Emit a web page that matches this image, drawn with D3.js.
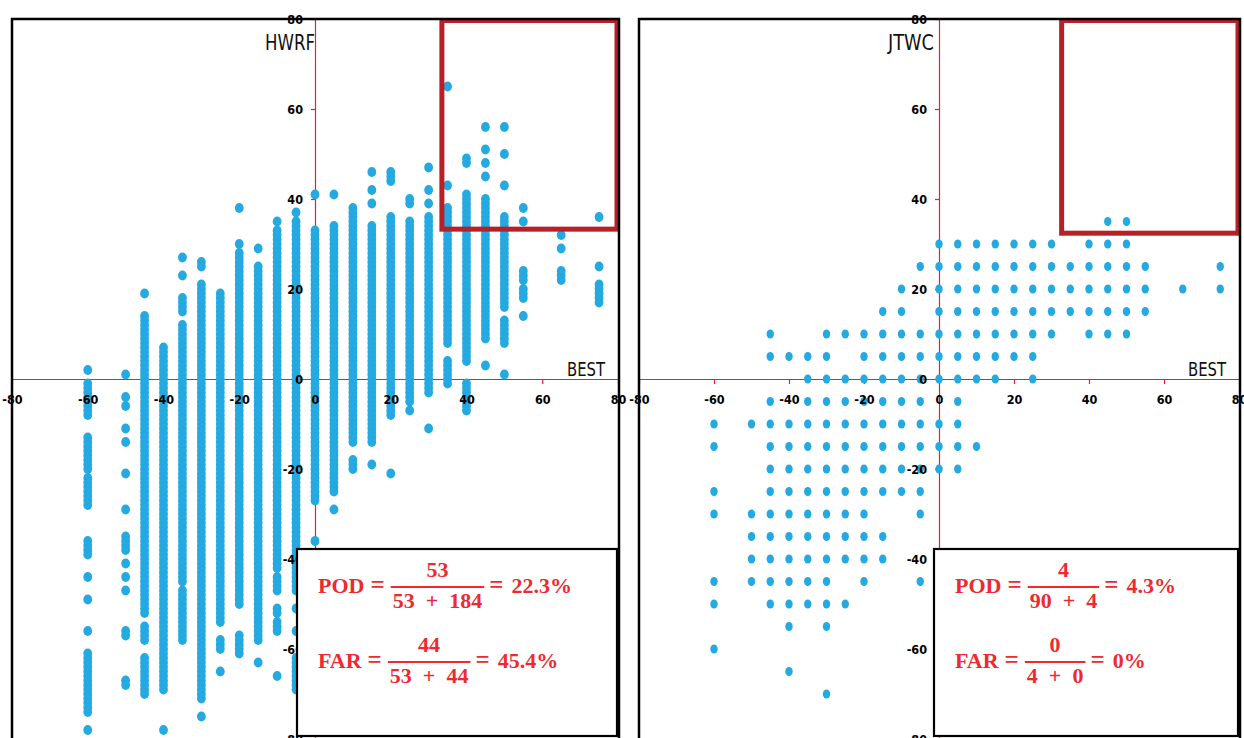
<!DOCTYPE html>
<html>
<head>
<meta charset="utf-8">
<script src="https://cdn.jsdelivr.net/npm/d3@7"></script>
<style>
  body { margin: 0; background: #fff; }
  svg { display: block; }
</style>
</head>
<body>
<div id="chart"></div>
<script>
  // Axis ticks (knots), shared by both panels
  var xTicks = [-80, -60, -40, -20, 0, 20, 40, 60, 80]
  var yTicks = [-80, -60, -40, -20, 0, 20, 40, 60, 80]

  // HWRF: one column of forecast values per BEST category
  var hwrfX = [-60, -50, -45, -40, -35, -30, -25, -20, -15, -10, -5, 0, 5, 10, 15, 20, 25, 30, 35, 40, 45, 50, 55, 65, 75]
  var hwrfY = [
    [2, -1, -2, -3, -4, -5, -6, -7, -8, -13, -14, -15, -16, -17, -18, -19, -20, -22, -23, -24, -25, -26, -27, -28, -36, -37, -38, -39, -44, -49, -56, -61, -62, -63, -64, -65, -66, -67, -68, -69, -70, -71, -72, -73, -74, -78],
    [1, -4, -6, -11, -14, -21, -29, -35, -36, -37, -38, -41, -44, -47, -56, -57, -67, -68],
    [19, 14, 13, 12, 11, 10, 9, 8, 7, 6, 5, 4, 3, 2, 1, 0, -1, -2, -3, -4, -5, -6, -7, -8, -9, -10, -11, -12, -13, -14, -15, -16, -17, -18, -19, -20, -21, -22, -23, -24, -25, -26, -27, -28, -29, -30, -31, -32, -33, -34, -35, -36, -37, -38, -39, -40, -41, -42, -43, -44, -45, -46, -47, -48, -49, -50, -51, -52, -55, -56, -57, -58, -62, -63, -64, -65, -66, -67, -68, -69, -70],
    [7, 6, 5, 4, 3, 2, 1, 0, -1, -2, -3, -4, -5, -6, -7, -8, -9, -10, -11, -12, -13, -14, -15, -16, -17, -18, -19, -20, -21, -22, -23, -24, -25, -26, -27, -28, -29, -30, -31, -32, -33, -34, -35, -36, -37, -38, -39, -40, -41, -42, -43, -44, -45, -46, -47, -48, -49, -50, -51, -52, -53, -54, -55, -56, -57, -58, -59, -60, -61, -62, -63, -64, -65, -66, -67, -68, -69, -78],
    [27, 23, 18, 17, 16, 15, 12, 11, 10, 9, 8, 7, 6, 5, 4, 3, 2, 1, 0, -1, -2, -3, -4, -5, -6, -7, -8, -9, -10, -11, -12, -13, -14, -15, -16, -17, -18, -19, -20, -21, -22, -23, -24, -25, -26, -27, -28, -29, -30, -31, -32, -33, -34, -35, -36, -37, -38, -39, -40, -41, -42, -43, -44, -45, -47, -48, -49, -50, -51, -52, -53, -54, -55, -56, -57, -58],
    [26, 25, 21, 20, 19, 18, 17, 16, 15, 14, 13, 12, 11, 10, 9, 8, 7, 6, 5, 4, 3, 2, 1, 0, -1, -2, -3, -4, -5, -6, -7, -8, -9, -10, -11, -12, -13, -14, -15, -16, -17, -18, -19, -20, -21, -22, -23, -24, -25, -26, -27, -28, -29, -30, -31, -32, -33, -34, -35, -36, -37, -38, -39, -40, -41, -42, -43, -44, -45, -46, -47, -48, -49, -50, -51, -52, -53, -54, -55, -56, -57, -58, -59, -60, -61, -62, -63, -64, -65, -66, -67, -68, -69, -70, -71, -75],
    [19, 18, 17, 16, 15, 14, 13, 12, 11, 10, 9, 8, 7, 6, 5, 4, 3, 2, 1, 0, -1, -2, -3, -4, -5, -6, -7, -8, -9, -10, -11, -12, -13, -14, -15, -16, -17, -18, -19, -20, -21, -22, -23, -24, -25, -26, -27, -28, -29, -30, -31, -32, -33, -34, -35, -36, -37, -38, -39, -40, -41, -42, -43, -44, -45, -46, -47, -48, -49, -50, -51, -52, -53, -54, -58, -59, -60, -65],
    [38, 30, 28, 27, 26, 25, 24, 23, 22, 21, 20, 19, 18, 17, 16, 15, 14, 13, 12, 11, 10, 9, 8, 7, 6, 5, 4, 3, 2, 1, 0, -1, -2, -3, -4, -5, -6, -7, -8, -9, -10, -11, -12, -13, -14, -15, -16, -17, -18, -19, -20, -21, -22, -23, -24, -25, -26, -27, -28, -29, -30, -31, -32, -33, -34, -35, -36, -37, -38, -39, -40, -41, -42, -43, -44, -45, -46, -47, -48, -49, -50, -57, -58, -59, -60, -61],
    [29, 25, 24, 23, 22, 21, 20, 19, 18, 17, 16, 15, 14, 13, 12, 11, 10, 9, 8, 7, 6, 5, 4, 3, 2, 1, 0, -1, -2, -3, -4, -5, -6, -7, -8, -9, -10, -11, -12, -13, -14, -15, -16, -17, -18, -19, -20, -21, -22, -23, -24, -25, -26, -27, -28, -29, -30, -31, -32, -33, -34, -35, -36, -37, -38, -39, -40, -41, -42, -43, -44, -45, -46, -47, -48, -49, -50, -51, -52, -53, -54, -55, -56, -57, -58, -63],
    [35, 33, 32, 31, 30, 29, 28, 27, 26, 25, 24, 23, 22, 21, 20, 19, 18, 17, 16, 15, 14, 13, 12, 11, 10, 9, 8, 7, 6, 5, 4, 3, 2, 1, 0, -1, -2, -3, -4, -5, -6, -7, -8, -9, -10, -11, -12, -13, -14, -15, -16, -17, -18, -19, -20, -21, -22, -23, -24, -25, -26, -27, -28, -29, -30, -31, -32, -33, -34, -35, -36, -37, -38, -39, -40, -41, -42, -44, -45, -46, -47, -51, -52, -54, -55, -56, -66],
    [37, 35, 34, 33, 32, 31, 30, 29, 28, 27, 26, 25, 24, 23, 22, 21, 20, 19, 18, 17, 16, 15, 14, 13, 12, 11, 10, 9, 8, 7, 6, 5, 4, 3, 2, 1, 0, -1, -2, -3, -4, -5, -6, -7, -8, -9, -10, -11, -12, -13, -14, -15, -16, -17, -18, -19, -20, -21, -22, -23, -24, -25, -26, -27, -28, -29, -30, -31, -32, -33, -34, -35, -36, -37, -38, -39, -40, -41, -42, -43, -44, -45, -46, -47, -51, -56, -62, -63, -64, -65, -66, -67, -68, -69],
    [41, 33, 32, 31, 30, 29, 28, 27, 26, 25, 24, 23, 22, 21, 20, 19, 18, 17, 16, 15, 14, 13, 12, 11, 10, 9, 8, 7, 6, 5, 4, 3, 2, 1, 0, -1, -2, -3, -4, -5, -6, -7, -8, -9, -10, -11, -12, -13, -14, -15, -16, -17, -18, -19, -20, -21, -22, -23, -24, -25, -26, -27, -36],
    [41, 34, 33, 32, 31, 30, 29, 28, 27, 26, 25, 24, 23, 22, 21, 20, 19, 18, 17, 16, 15, 14, 13, 12, 11, 10, 9, 8, 7, 6, 5, 4, 3, 2, 1, 0, -1, -2, -3, -4, -5, -6, -7, -8, -9, -10, -11, -12, -13, -14, -15, -16, -17, -18, -19, -20, -21, -22, -23, -24, -25, -29],
    [38, 37, 36, 35, 34, 33, 32, 31, 30, 29, 28, 27, 26, 25, 24, 23, 22, 21, 20, 19, 18, 17, 16, 15, 14, 13, 12, 11, 10, 9, 8, 7, 6, 5, 4, 3, 2, 1, 0, -1, -2, -3, -4, -5, -6, -7, -8, -9, -10, -11, -12, -13, -14, -18, -19, -20],
    [46, 42, 39, 34, 33, 32, 31, 30, 29, 28, 27, 26, 25, 24, 23, 22, 21, 20, 19, 18, 17, 16, 15, 14, 13, 12, 11, 10, 9, 8, 7, 6, 5, 4, 3, 2, 1, 0, -1, -2, -3, -4, -5, -6, -7, -8, -9, -10, -11, -12, -13, -14, -19],
    [46, 45, 44, 36, 35, 34, 33, 32, 31, 30, 29, 28, 27, 26, 25, 24, 23, 22, 21, 20, 19, 18, 17, 16, 15, 14, 13, 12, 11, 10, 9, 8, 7, 6, 5, 4, 3, 2, 1, 0, -1, -2, -3, -4, -5, -6, -7, -8, -21],
    [40, 39, 35, 34, 33, 32, 31, 30, 29, 28, 27, 26, 25, 24, 23, 22, 21, 20, 19, 18, 17, 16, 15, 14, 13, 12, 11, 10, 9, 8, 7, 6, 5, 4, 3, 2, 1, 0, -1, -2, -3, -4, -5, -7],
    [47, 42, 39, 36, 35, 34, 33, 32, 31, 30, 29, 28, 27, 26, 25, 24, 23, 22, 21, 20, 19, 18, 17, 16, 15, 14, 13, 12, 11, 10, 9, 8, 7, 6, 5, 4, 3, 2, 1, 0, -1, -2, -3, -11],
    [65, 43, 38, 37, 36, 35, 34, 33, 32, 31, 30, 29, 28, 27, 26, 25, 24, 23, 22, 21, 20, 19, 18, 17, 16, 15, 14, 13, 12, 11, 10, 9, 8, 4, 3, 2, 1, 0, -1],
    [49, 48, 41, 40, 39, 38, 37, 36, 35, 34, 33, 32, 31, 30, 29, 28, 27, 26, 25, 24, 23, 22, 21, 20, 19, 18, 17, 16, 15, 14, 13, 12, 11, 10, 9, 8, 7, 6, 5, 4, -1, -2, -3, -4, -5, -6, -7],
    [56, 51, 48, 45, 40, 39, 38, 37, 36, 35, 34, 33, 32, 31, 30, 29, 28, 27, 26, 25, 24, 23, 22, 21, 20, 19, 18, 17, 16, 15, 14, 13, 12, 11, 10, 9, 3],
    [56, 50, 43, 36, 35, 34, 33, 32, 31, 30, 29, 28, 27, 26, 25, 24, 23, 22, 21, 20, 19, 18, 17, 16, 13, 12, 11, 10, 9, 8, 1],
    [38, 35, 24, 23, 22, 20, 19, 18, 14],
    [32, 29, 24, 23, 22],
    [36, 25, 21, 20, 19, 18, 17]
  ]

  // JTWC: one row of BEST values per forecast category
  var jtwcY = [35, 30, 25, 20, 15, 10, 5, 0, -5, -10, -15, -20, -25, -30, -35, -40, -45, -50, -55, -60, -65, -70]
  var jtwcX = [
    [45, 50],
    [0, 5, 10, 15, 20, 25, 30, 40, 45, 50],
    [-5, 0, 5, 10, 15, 20, 25, 30, 35, 40, 45, 50, 55, 75],
    [-10, 0, 5, 10, 15, 20, 25, 30, 35, 40, 45, 50, 55, 65, 75],
    [-15, -10, 0, 5, 10, 15, 20, 25, 30, 35, 40, 45, 50, 55],
    [-45, -30, -25, -20, -15, -10, -5, 0, 5, 10, 15, 20, 25, 30, 40, 45, 50],
    [-45, -40, -35, -30, -20, -15, -10, -5, 0, 5, 10, 15, 20, 25],
    [-35, -30, -25, -20, -15, -10, -5, 0, 5, 10, 15, 25],
    [-45, -35, -30, -25, -20, -15, -10, -5, 5],
    [-60, -50, -45, -40, -35, -30, -25, -20, -15, -10, -5, 0, 5],
    [-60, -45, -40, -35, -30, -25, -20, -15, -10, -5, 0, 5, 10],
    [-45, -40, -35, -30, -25, -20, -15, -10, -5, 0, 5],
    [-60, -45, -40, -35, -30, -25, -20, -15, -10, -5],
    [-60, -50, -45, -40, -35, -30, -25, -20, -5],
    [-50, -45, -40, -35, -30, -25, -20, -15],
    [-50, -45, -40, -35, -30, -25, -20, -15],
    [-60, -50, -45, -40, -35, -30, -20, -5],
    [-60, -45, -40, -35, -30, -25],
    [-40, -30],
    [-60],
    [-40],
    [-30]
  ]

  // Panel titles and the scores written in the boxes
  var panelTitles = ["HWRF", "JTWC"]
  var scoreNames = ["POD", "FAR"]
  var hwrfNum = ["53", "44"]
  var hwrfDen = ["53 + 184", "53 + 44"]
  var hwrfRes = ["22.3%", "45.4%"]
  var jtwcNum = ["4", "0"]
  var jtwcDen = ["90 + 4", "4 + 0"]
  var jtwcRes = ["4.3%", "0%"]

  // Lower-left corner of the highlight box, in data units
  var hiliteX = [33.5, 32.7]
  var hiliteY = [33.3, 32.4]

  var width = 1244, height = 738
  var dotColor = "#24A9E1"
  var axisRed = "#E8202A"
  var textRed = "#EE2A30"
  var tickFont = '"Liberation Sans Narrow", "DejaVu Sans Condensed", "Arial Narrow", sans-serif'
  var mathFont = '"Liberation Serif", "DejaVu Serif", serif'

  var svg = d3.select("#chart")
    .append("svg")
    .attr("width", width)
    .attr("height", height)

  svg.append("rect").attr("width", width).attr("height", height).attr("fill", "#fff")

  // flatten the data into points for each panel
  var hwrfPts = []
  hwrfX.forEach(function(x, i) {
    hwrfY[i].forEach(function(y) { hwrfPts.push([x, y]) })
  })
  var jtwcPts = []
  jtwcY.forEach(function(y, i) {
    jtwcX[i].forEach(function(x) { jtwcPts.push([x, y]) })
  })

  var panels = [
    { left: 12, right: 618, pts: hwrfPts, num: hwrfNum, den: hwrfDen, res: hwrfRes, boxL: 297, rx: 4.4, ry: 5, titleDx: 0, titleW: 50 },
    { left: 639, right: 1239, pts: jtwcPts, num: jtwcNum, den: jtwcDen, res: jtwcRes, boxL: 934, rx: 3.7, ry: 4.6, titleDx: -5, titleW: 46 }
  ]

  panels.forEach(function(p, pi) {
    var x = d3.scaleLinear().domain([-80, 80]).range([p.left, p.right])
    var y = d3.scaleLinear().domain([-80, 80]).range([739, 19])
    var g = svg.append("g")

    // red axis lines through the origin
    g.append("g")
      .attr("transform", "translate(0," + y(0) + ")")
      .call(d3.axisBottom(x).tickValues(xTicks).tickSize(5).tickSizeOuter(0).tickFormat(""))
    g.append("g")
      .attr("transform", "translate(" + x(0) + ",0)")
      .call(d3.axisLeft(y).tickValues(yTicks).tickSize(4).tickSizeOuter(0).tickFormat(""))
    g.selectAll(".domain, .tick line").attr("stroke", axisRed).attr("stroke-width", 1.2)

    // scatter points
    g.append("g")
      .selectAll("ellipse")
      .data(p.pts)
      .enter()
      .append("ellipse")
      .attr("cx", function(d) { return x(d[0]) })
      .attr("cy", function(d) { return y(d[1]) })
      .attr("rx", p.rx)
      .attr("ry", p.ry)
      .attr("fill", dotColor)

    // tick labels sit on top of the dots
    var xLab = g.append("g")
      .attr("transform", "translate(0," + y(0) + ")")
      .call(d3.axisBottom(x).tickValues(xTicks).tickSize(0).tickPadding(16).tickFormat(d3.format("d")))
    var yLab = g.append("g")
      .attr("transform", "translate(" + x(0) + ",0)")
      .call(d3.axisLeft(y).tickValues(yTicks).tickSize(0).tickPadding(12).tickFormat(d3.format("d")))
    ;[xLab, yLab].forEach(function(a) {
      a.select(".domain").remove()
      a.attr("font-family", null).attr("font-size", null)
      a.selectAll("text")
        .attr("fill", "#000")
        .style("font-family", tickFont)
        .style("font-size", "12.5px")
        .style("font-weight", "bold")
        .text(function(d) { return d < 0 ? "-" + Math.abs(d) : d })
    })

    // panel title and x-axis name
    g.append("text")
      .attr("x", x(0) + p.titleDx)
      .attr("y", 50)
      .attr("text-anchor", "end")
      .attr("textLength", p.titleW)
      .attr("lengthAdjust", "spacingAndGlyphs")
      .style("font-family", tickFont)
      .style("font-size", "21px")
      .attr("fill", "#111")
      .text(panelTitles[pi])
    g.append("text")
      .attr("x", x(80) - 13)
      .attr("y", 376)
      .attr("text-anchor", "end")
      .attr("textLength", 38)
      .attr("lengthAdjust", "spacingAndGlyphs")
      .style("font-family", tickFont)
      .style("font-size", "19.5px")
      .attr("fill", "#111")
      .text("BEST")

    // highlight box in the upper-right corner
    g.append("rect")
      .attr("x", x(hiliteX[pi]))
      .attr("y", y(80) + 1.5)
      .attr("width", x(80) - x(hiliteX[pi]) - 1)
      .attr("height", y(hiliteY[pi]) - y(80) - 1.5)
      .attr("fill", "none")
      .attr("stroke", "#B81F26")
      .attr("stroke-width", 5)

    // score box
    var bx = p.boxL, by = 549
    g.append("rect")
      .attr("x", bx)
      .attr("y", by)
      .attr("width", x(80) - bx - 1)
      .attr("height", 187)
      .attr("fill", "#fff")
      .attr("stroke", "#000")
      .attr("stroke-width", 2.2)

    scoreNames.forEach(function(name, k) {
      var base = by + 44 + k * 75
      var cx = bx + 21
      var f = g.append("g")
        .style("font-family", mathFont)
        .style("font-weight", "bold")
        .style("font-size", "22px")
        .attr("fill", textRed)

      var t1 = f.append("text").attr("x", cx).attr("y", base).text(name)
      cx += t1.node().getComputedTextLength() + 6
      var e1 = f.append("text").attr("x", cx).attr("y", base).style("font-size", "25px").text("=")
      cx += e1.node().getComputedTextLength() + 6

      var nt = f.append("text").attr("y", base - 16).attr("text-anchor", "middle").text(p.num[k])
      var dt = f.append("text").attr("y", base + 15).attr("text-anchor", "middle").text(p.den[k].replace(/ \+ /g, "\u2002+\u2002"))
      var fw = Math.max(nt.node().getComputedTextLength(), dt.node().getComputedTextLength()) + 4
      nt.attr("x", cx + fw / 2)
      dt.attr("x", cx + fw / 2)
      f.append("line")
        .attr("x1", cx).attr("x2", cx + fw)
        .attr("y1", base - 6).attr("y2", base - 6)
        .attr("stroke", textRed).attr("stroke-width", 2)
      cx += fw + 5

      var e2 = f.append("text").attr("x", cx).attr("y", base).style("font-size", "25px").text("=")
      cx += e2.node().getComputedTextLength() + 8
      f.append("text").attr("x", cx).attr("y", base).text(p.res[k])
    })

    // outer frame of the panel
    g.append("rect")
      .attr("x", p.left)
      .attr("y", 19)
      .attr("width", x(80) - p.left + 1)
      .attr("height", 740)
      .attr("fill", "none")
      .attr("stroke", "#000")
      .attr("stroke-width", 2.5)
  })
</script>
</body>
</html>
